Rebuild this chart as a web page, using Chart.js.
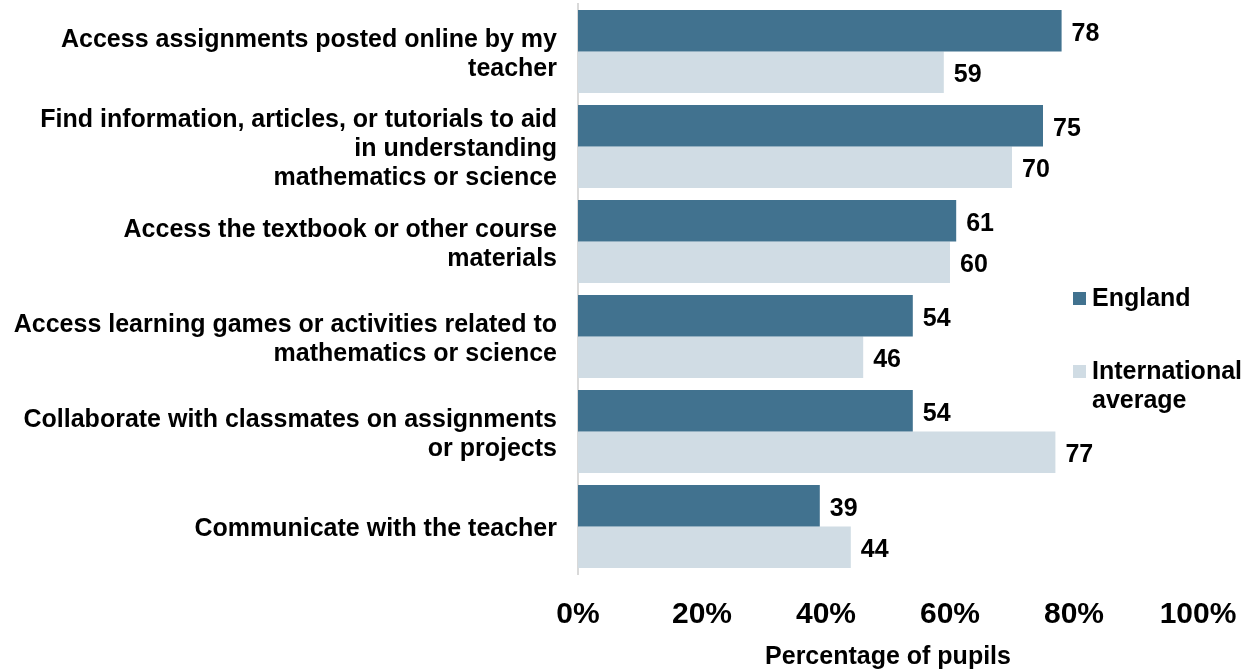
<!DOCTYPE html>
<html>
<head>
<meta charset="utf-8">
<script src="https://cdn.jsdelivr.net/npm/chart.js@4/dist/chart.umd.min.js"></script>
<style>
  html, body { margin: 0; padding: 0; background: #ffffff; }
  #wrap { width: 1250px; height: 670px; position: relative; }
</style>
</head>
<body>
<div id="wrap"><canvas id="chart" width="1250" height="670"></canvas></div>
<script>
// Datos del gráfico
const categories = [
    ['Access assignments posted online by my', 'teacher'],
    ['Find information, articles, or tutorials to aid', 'in understanding', 'mathematics or science'],
    ['Access the textbook or other course', 'materials'],
    ['Access learning games or activities related to', 'mathematics or science'],
    ['Collaborate with classmates on assignments', 'or projects'],
    ['Communicate with the teacher']
];
const englandValues = [78, 75, 61, 54, 54, 39];
const internationalValues = [59, 70, 60, 46, 77, 44];
const seriesNames = ['England', ['International', 'average']];
const xTicks = [0, 20, 40, 60, 80, 100];

const FONT = '"Liberation Sans", Arial, sans-serif';
const COLORS = ['#41728f', '#d0dce4'];

// Etiquetas de valor al final de cada barra
const valueLabels = {
    id: 'valueLabels',
    afterDatasetsDraw(chart) {
        const ctx = chart.ctx;
        ctx.save();
        ctx.font = 'bold 25px ' + FONT;
        ctx.fillStyle = '#000000';
        ctx.textAlign = 'left';
        ctx.textBaseline = 'middle';
        chart.data.datasets.forEach((ds, i) => {
            chart.getDatasetMeta(i).data.forEach((bar, j) => {
                ctx.fillText(String(ds.data[j]), bar.x + 10, bar.y + 3);
            });
        });
        ctx.restore();
    }
};

// Leyenda dibujada dentro del área
const sideLegend = {
    id: 'sideLegend',
    afterDraw(chart) {
        const ctx = chart.ctx;
        const x = 1073;
        const ys = [298, 371];
        ctx.save();
        ctx.font = 'bold 25px ' + FONT;
        ctx.textBaseline = 'middle';
        ctx.textAlign = 'left';
        seriesNames.forEach((name, i) => {
            const lines = Array.isArray(name) ? name : [name];
            ctx.fillStyle = COLORS[i];
            ctx.fillRect(x, ys[i] - 6, 13, 13);
            ctx.fillStyle = '#000000';
            lines.forEach((line, k) => {
                ctx.fillText(line, x + 19, ys[i] + 1 + k * 29);
            });
        });
        ctx.restore();
    }
};

new Chart(document.getElementById('chart'), {
    type: 'bar',
    data: {
        labels: categories,
        datasets: [
            {
                label: 'England',
                data: englandValues,
                backgroundColor: COLORS[0],
                categoryPercentage: 0.874,
                barPercentage: 1.0
            },
            {
                label: 'International average',
                data: internationalValues,
                backgroundColor: COLORS[1],
                categoryPercentage: 0.874,
                barPercentage: 1.0
            }
        ]
    },
    options: {
        indexAxis: 'y',
        responsive: false,
        animation: false,
        layout: { padding: { top: 4, right: 52, left: 0, bottom: 0 } },
        plugins: {
            legend: { display: false },
            tooltip: { enabled: false }
        },
        scales: {
            x: {
                min: 0,
                max: 100,
                afterBuildTicks(scale) {
                    scale.ticks = xTicks.map(v => ({ value: v }));
                },
                afterFit(scale) {
                    scale.height = 96;
                    scale.paddingLeft = 0;
                    scale.paddingRight = 0;
                },
                grid: { display: false, drawTicks: false },
                border: { display: false },
                ticks: {
                    padding: 23,
                    color: '#000000',
                    font: { family: FONT, size: 30, weight: 'bold' },
                    callback: v => v + '%'
                },
                title: {
                    display: true,
                    text: 'Percentage of pupils',
                    color: '#000000',
                    font: { family: FONT, size: 25, weight: 'bold', lineHeight: 1.05 },
                    padding: { top: 0, bottom: 0 }
                }
            },
            y: {
                afterFit(scale) {
                    scale.width = 578;
                    scale.paddingTop = 0;
                    scale.paddingBottom = 0;
                },
                grid: { display: false, drawTicks: false },
                border: { display: true, color: '#d9d9d9', width: 2 },
                ticks: {
                    padding: 21,
                    labelOffset: 3,
                    color: '#000000',
                    font: { family: FONT, size: 25, weight: 'bold', lineHeight: 1.16 }
                }
            }
        }
    },
    plugins: [valueLabels, sideLegend]
});
</script>
</body>
</html>
